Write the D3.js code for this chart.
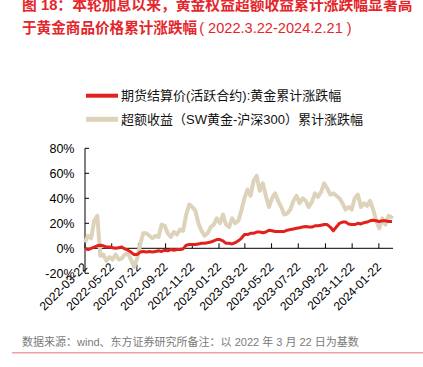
<!DOCTYPE html>
<html><head><meta charset="utf-8">
<script src="https://cdn.jsdelivr.net/npm/d3@7"></script>
<style>
html,body{margin:0;padding:0;background:#fff;}
svg{display:block;font-family:"Liberation Sans","Noto Sans CJK SC",sans-serif;}
</style></head>
<body>
<svg id="chart" width="423" height="367"></svg>
<script>
const dates = ["2022-03-22","2022-03-29","2022-04-05","2022-04-12","2022-04-19","2022-04-26","2022-05-03","2022-05-10","2022-05-17","2022-05-24",
"2022-05-31","2022-06-07","2022-06-14","2022-06-21","2022-06-28","2022-07-05","2022-07-12","2022-07-19","2022-07-26","2022-08-02",
"2022-08-09","2022-08-16","2022-08-23","2022-08-30","2022-09-06","2022-09-13","2022-09-20","2022-09-27","2022-10-04","2022-10-11",
"2022-10-18","2022-10-25","2022-11-01","2022-11-08","2022-11-15","2022-11-22","2022-11-29","2022-12-06","2022-12-13","2022-12-20",
"2022-12-27","2023-01-03","2023-01-10","2023-01-17","2023-01-24","2023-01-31","2023-02-07","2023-02-14","2023-02-21","2023-02-28",
"2023-03-07","2023-03-14","2023-03-21","2023-03-28","2023-04-04","2023-04-11","2023-04-18","2023-04-25","2023-05-02","2023-05-09",
"2023-05-16","2023-05-23","2023-05-30","2023-06-06","2023-06-13","2023-06-20","2023-06-27","2023-07-04","2023-07-11","2023-07-18",
"2023-07-25","2023-08-01","2023-08-08","2023-08-15","2023-08-22","2023-08-29","2023-09-05","2023-09-12","2023-09-19","2023-09-26",
"2023-10-03","2023-10-10","2023-10-17","2023-10-24","2023-10-31","2023-11-07","2023-11-14","2023-11-21","2023-11-28","2023-12-05",
"2023-12-12","2023-12-19","2023-12-26","2024-01-02","2024-01-09","2024-01-16","2024-01-23","2024-01-30","2024-02-06","2024-02-13",
"2024-02-20","2024-02-21"];

// 期货结算价(活跃合约):黄金累计涨跌幅 (%)
const goldFutures = [0,-1,0,1,2,2.5,2,1,1,0.5,
0,0.5,1,-0.5,-1.5,-3,-5,-5,-3,-2.5,
-3,-2.5,-3,-2.5,-2,-2.5,-1.5,-2,-1,-1.5,
-1,-1,-0.5,2.5,3,3,3,3.5,4,4,
4.5,5,6,7,7,6,4,4,3.5,4.5,
6,8,11,11,12,12,13,13,12.5,13,
14.5,14,13.5,13.5,13.5,13.5,14.5,15,15.5,16,
16.5,17,17.5,17,17,18,18,18.5,19,19,
17,14,17,20,21,21,19.5,19,19,20,
19.5,20.5,21,22,22.5,22,21.5,22,22,21.5,
21.5,21.5];

// 超额收益（SW黄金-沪深300）累计涨跌幅 (%)
const excessReturn = [5,10,8,22,26,-6,-5,-10,-7,-9,
-5,-9,-8,-5,-4,-9,-15,-8,3,12,
12,10,8,10,9,19,18,12,9,13,
11,15,14,27,35,33,30,20,14,10,
12,17,19,24,20,27,19,17,24,20,
22,30,40,47,42,54,58,46,52,42,
33,40,44,38,33,27,28,31,38,42,
36,40,38,33,37,44,41,45,52,48,
43,44,42,40,36,31,33,31,40,43,
33,36,34,38,31,22,16,24,19,26,
25,26];

const yTicks = [-20,0,20,40,60,80];
const xTickDates = ["2022-03-22","2022-05-22","2022-07-22","2022-09-22","2022-11-22","2023-01-22","2023-03-22","2023-05-22","2023-07-22","2023-09-22","2023-11-22","2024-01-22"];
const seriesNames = ["期货结算价(活跃合约):黄金累计涨跌幅","超额收益（SW黄金-沪深300）累计涨跌幅"];
const seriesColors = ["#e3211c","#ddd3bb"];

const parse = d3.timeParse("%Y-%m-%d");
const svg = d3.select("#chart");
const red = "#e4262b";

// Title
svg.append("text").attr("x",22).attr("y",10).attr("font-size",14.8).attr("font-weight","bold").attr("fill",red)
  .text("图 18：本轮加息以来，黄金权益超额收益累计涨跌幅显著高");
const t2 = svg.append("text").attr("x",22).attr("y",33).attr("font-size",14.6).attr("fill",red);
t2.append("tspan").attr("font-weight","bold").text("于黄金商品价格累计涨跌幅");
t2.append("tspan").attr("dx",2).text("( 2022.3.22-2024.2.21 )");

// Legend
const legY = [95.7,119.3];
const legW = [4,5];
seriesNames.forEach((n,i)=>{
  svg.append("line").attr("x1",86).attr("x2",118).attr("y1",legY[i]).attr("y2",legY[i])
    .attr("stroke",seriesColors[i]).attr("stroke-width",legW[i]);
  svg.append("text").attr("x",121).attr("y",legY[i]+4.6).attr("font-size",13).attr("fill","#111").text(n);
});

// Scales
const x = d3.scaleTime().domain([parse("2022-03-22"),parse("2024-02-21")]).range([85,392]);
const y = d3.scaleLinear().domain([-20,80]).range([273.3,148.3]);

// Y axis
svg.append("line").attr("x1",85).attr("x2",85).attr("y1",y(80)).attr("y2",y(-20)).attr("stroke","#000").attr("stroke-width",1);
yTicks.forEach(v=>{
  svg.append("line").attr("x1",85).attr("x2",89).attr("y1",y(v)).attr("y2",y(v)).attr("stroke","#000");
  svg.append("text").attr("x",74.5).attr("y",y(v)+4.3).attr("text-anchor","end").attr("font-size",12.5).attr("fill","#000").text(v+"%");
});

// X axis at 0
svg.append("line").attr("x1",85).attr("x2",393).attr("y1",y(0)).attr("y2",y(0)).attr("stroke","#000");
xTickDates.forEach(ds=>{
  const xx = x(parse(ds));
  svg.append("line").attr("x1",xx).attr("x2",xx).attr("y1",y(0)).attr("y2",y(0)-5).attr("stroke","#000");
  svg.append("text").attr("transform",`translate(${xx+3},${y(0)+19.5}) rotate(-45)`).attr("text-anchor","end")
    .attr("font-size",12).attr("fill","#000").text(ds);
});

// Lines
const pts = (vals)=>vals.map((v,i)=>[parse(dates[i]),v]);
const line = d3.line().x(d=>x(d[0])).y(d=>y(d[1])).curve(d3.curveLinear);
svg.append("path").datum(pts(excessReturn)).attr("d",line).attr("fill","none").attr("stroke",seriesColors[1]).attr("stroke-width",4).attr("stroke-linejoin","round");
svg.append("path").datum(pts(goldFutures)).attr("d",line).attr("fill","none").attr("stroke",seriesColors[0]).attr("stroke-width",3).attr("stroke-linejoin","round");

// Footer
svg.append("text").attr("x",22).attr("y",345.5).attr("font-size",11).attr("fill","#7a7a7a")
  .text("数据来源：wind、东方证券研究所备注：以 2022 年 3 月 22 日为基数");
svg.append("line").attr("x1",12).attr("x2",423).attr("y1",352.7).attr("y2",352.7).attr("stroke","#f0a0a0").attr("stroke-width",1.5);
</script>
</body></html>
